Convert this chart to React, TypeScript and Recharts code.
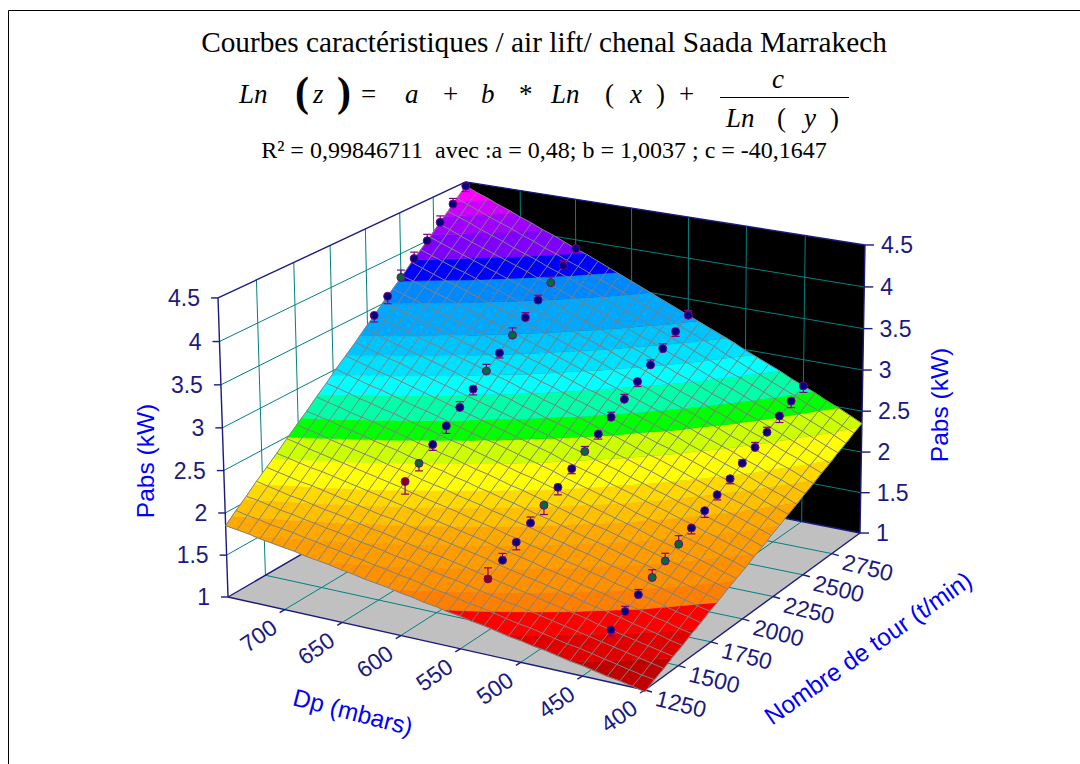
import { Scatter, ScatterChart, XAxis, YAxis } from "recharts";

const W = 1080;
const H = 764;

// axis ticks
const dpTicks = [700, 650, 600, 550, 500, 450, 400];
const rpmTicks = [1250, 1500, 1750, 2000, 2250, 2500, 2750];
const zTicks = [1, 1.5, 2, 2.5, 3, 3.5, 4, 4.5];
const DP_MIN = 400;
const DP_MAX = 750;
const RPM_MIN = 1250;
const RPM_MAX = 3000;

// fitted surface, one row per Dp, one column per speed
const gridDp = [400, 410, 420, 430, 440, 450, 460, 470, 480, 490, 500, 510, 520, 530, 540, 550, 560, 570, 580, 590, 600, 610, 620, 630, 640, 650, 660, 670, 680, 690, 700, 710, 720, 730, 740, 750];
const gridRpm = [1250, 1320, 1390, 1460, 1530, 1600, 1670, 1740, 1810, 1880, 1950, 2020, 2090, 2160, 2230, 2300, 2370, 2440, 2510, 2580, 2650, 2720, 2790, 2860, 2930, 3000];
const surfaceZ = [
  [0.98, 1.04, 1.09, 1.15, 1.2, 1.26, 1.31, 1.37, 1.42, 1.48, 1.53, 1.58, 1.64, 1.69, 1.75, 1.8, 1.86, 1.91, 1.97, 2.02, 2.08, 2.13, 2.19, 2.24, 2.3, 2.35],
  [1.01, 1.06, 1.12, 1.18, 1.23, 1.29, 1.35, 1.4, 1.46, 1.52, 1.57, 1.63, 1.69, 1.74, 1.8, 1.86, 1.91, 1.97, 2.02, 2.08, 2.14, 2.19, 2.25, 2.31, 2.36, 2.42],
  [1.04, 1.09, 1.15, 1.21, 1.27, 1.33, 1.38, 1.44, 1.5, 1.56, 1.62, 1.67, 1.73, 1.79, 1.85, 1.91, 1.96, 2.02, 2.08, 2.14, 2.2, 2.25, 2.31, 2.37, 2.43, 2.49],
  [1.06, 1.12, 1.18, 1.24, 1.3, 1.36, 1.42, 1.48, 1.54, 1.6, 1.66, 1.72, 1.78, 1.84, 1.9, 1.96, 2.02, 2.07, 2.13, 2.19, 2.25, 2.31, 2.37, 2.43, 2.49, 2.55],
  [1.09, 1.15, 1.21, 1.27, 1.33, 1.4, 1.46, 1.52, 1.58, 1.64, 1.7, 1.76, 1.82, 1.88, 1.94, 2.0, 2.07, 2.13, 2.19, 2.25, 2.31, 2.37, 2.43, 2.49, 2.55, 2.62],
  [1.12, 1.18, 1.24, 1.3, 1.37, 1.43, 1.49, 1.55, 1.62, 1.68, 1.74, 1.8, 1.87, 1.93, 1.99, 2.05, 2.12, 2.18, 2.24, 2.3, 2.37, 2.43, 2.49, 2.55, 2.62, 2.68],
  [1.14, 1.21, 1.27, 1.33, 1.4, 1.46, 1.53, 1.59, 1.66, 1.72, 1.78, 1.85, 1.91, 1.98, 2.04, 2.1, 2.17, 2.23, 2.3, 2.36, 2.42, 2.49, 2.55, 2.62, 2.68, 2.74],
  [1.17, 1.23, 1.3, 1.37, 1.43, 1.5, 1.56, 1.63, 1.69, 1.76, 1.82, 1.89, 1.96, 2.02, 2.09, 2.15, 2.22, 2.28, 2.35, 2.41, 2.48, 2.54, 2.61, 2.68, 2.74, 2.81],
  [1.2, 1.26, 1.33, 1.4, 1.46, 1.53, 1.6, 1.66, 1.73, 1.8, 1.87, 1.93, 2.0, 2.07, 2.13, 2.2, 2.27, 2.33, 2.4, 2.47, 2.54, 2.6, 2.67, 2.74, 2.8, 2.87],
  [1.22, 1.29, 1.36, 1.43, 1.5, 1.56, 1.63, 1.7, 1.77, 1.84, 1.91, 1.97, 2.04, 2.11, 2.18, 2.25, 2.32, 2.38, 2.45, 2.52, 2.59, 2.66, 2.73, 2.8, 2.86, 2.93],
  [1.25, 1.32, 1.39, 1.46, 1.53, 1.6, 1.67, 1.74, 1.81, 1.88, 1.95, 2.02, 2.09, 2.16, 2.23, 2.3, 2.37, 2.44, 2.51, 2.58, 2.65, 2.71, 2.78, 2.85, 2.92, 2.99],
  [1.27, 1.34, 1.42, 1.49, 1.56, 1.63, 1.7, 1.77, 1.84, 1.91, 1.99, 2.06, 2.13, 2.2, 2.27, 2.34, 2.41, 2.49, 2.56, 2.63, 2.7, 2.77, 2.84, 2.91, 2.98, 3.06],
  [1.3, 1.37, 1.45, 1.52, 1.59, 1.66, 1.74, 1.81, 1.88, 1.95, 2.03, 2.1, 2.17, 2.25, 2.32, 2.39, 2.46, 2.54, 2.61, 2.68, 2.75, 2.83, 2.9, 2.97, 3.05, 3.12],
  [1.33, 1.4, 1.47, 1.55, 1.62, 1.7, 1.77, 1.84, 1.92, 1.99, 2.07, 2.14, 2.22, 2.29, 2.36, 2.44, 2.51, 2.59, 2.66, 2.73, 2.81, 2.88, 2.96, 3.03, 3.11, 3.18],
  [1.35, 1.43, 1.5, 1.58, 1.65, 1.73, 1.8, 1.88, 1.96, 2.03, 2.11, 2.18, 2.26, 2.33, 2.41, 2.49, 2.56, 2.64, 2.71, 2.79, 2.86, 2.94, 3.01, 3.09, 3.17, 3.24],
  [1.38, 1.45, 1.53, 1.61, 1.68, 1.76, 1.84, 1.92, 1.99, 2.07, 2.15, 2.22, 2.3, 2.38, 2.46, 2.53, 2.61, 2.69, 2.76, 2.84, 2.92, 2.99, 3.07, 3.15, 3.23, 3.3],
  [1.4, 1.48, 1.56, 1.64, 1.72, 1.79, 1.87, 1.95, 2.03, 2.11, 2.19, 2.27, 2.34, 2.42, 2.5, 2.58, 2.66, 2.74, 2.81, 2.89, 2.97, 3.05, 3.13, 3.21, 3.29, 3.36],
  [1.43, 1.51, 1.59, 1.67, 1.75, 1.83, 1.91, 1.99, 2.07, 2.15, 2.23, 2.31, 2.39, 2.47, 2.55, 2.63, 2.71, 2.79, 2.86, 2.94, 3.02, 3.1, 3.18, 3.26, 3.34, 3.42],
  [1.45, 1.53, 1.61, 1.7, 1.78, 1.86, 1.94, 2.02, 2.1, 2.18, 2.26, 2.35, 2.43, 2.51, 2.59, 2.67, 2.75, 2.83, 2.92, 3.0, 3.08, 3.16, 3.24, 3.32, 3.4, 3.48],
  [1.48, 1.56, 1.64, 1.73, 1.81, 1.89, 1.97, 2.06, 2.14, 2.22, 2.3, 2.39, 2.47, 2.55, 2.63, 2.72, 2.8, 2.88, 2.96, 3.05, 3.13, 3.21, 3.3, 3.38, 3.46, 3.54],
  [1.5, 1.59, 1.67, 1.75, 1.84, 1.92, 2.01, 2.09, 2.17, 2.26, 2.34, 2.43, 2.51, 2.59, 2.68, 2.76, 2.85, 2.93, 3.01, 3.1, 3.18, 3.27, 3.35, 3.43, 3.52, 3.6],
  [1.53, 1.61, 1.7, 1.78, 1.87, 1.95, 2.04, 2.12, 2.21, 2.29, 2.38, 2.47, 2.55, 2.64, 2.72, 2.81, 2.89, 2.98, 3.06, 3.15, 3.23, 3.32, 3.41, 3.49, 3.58, 3.66],
  [1.55, 1.64, 1.72, 1.81, 1.9, 1.98, 2.07, 2.16, 2.24, 2.33, 2.42, 2.5, 2.59, 2.68, 2.77, 2.85, 2.94, 3.03, 3.11, 3.2, 3.29, 3.37, 3.46, 3.55, 3.63, 3.72],
  [1.57, 1.66, 1.75, 1.84, 1.93, 2.02, 2.1, 2.19, 2.28, 2.37, 2.46, 2.54, 2.63, 2.72, 2.81, 2.9, 2.99, 3.07, 3.16, 3.25, 3.34, 3.43, 3.51, 3.6, 3.69, 3.78],
  [1.6, 1.69, 1.78, 1.87, 1.96, 2.05, 2.13, 2.22, 2.31, 2.4, 2.49, 2.58, 2.67, 2.76, 2.85, 2.94, 3.03, 3.12, 3.21, 3.3, 3.39, 3.48, 3.57, 3.66, 3.75, 3.84],
  [1.62, 1.71, 1.8, 1.89, 1.98, 2.08, 2.17, 2.26, 2.35, 2.44, 2.53, 2.62, 2.71, 2.8, 2.89, 2.98, 3.07, 3.17, 3.26, 3.35, 3.44, 3.53, 3.62, 3.71, 3.8, 3.89],
  [1.65, 1.74, 1.83, 1.92, 2.01, 2.11, 2.2, 2.29, 2.38, 2.47, 2.57, 2.66, 2.75, 2.84, 2.93, 3.03, 3.12, 3.21, 3.3, 3.4, 3.49, 3.58, 3.67, 3.76, 3.86, 3.95],
  [1.67, 1.76, 1.86, 1.95, 2.04, 2.14, 2.23, 2.32, 2.42, 2.51, 2.6, 2.7, 2.79, 2.88, 2.98, 3.07, 3.16, 3.26, 3.35, 3.44, 3.54, 3.63, 3.73, 3.82, 3.91, 4.01],
  [1.69, 1.79, 1.88, 1.98, 2.07, 2.17, 2.26, 2.36, 2.45, 2.55, 2.64, 2.73, 2.83, 2.92, 3.02, 3.11, 3.21, 3.3, 3.4, 3.49, 3.59, 3.68, 3.78, 3.87, 3.97, 4.06],
  [1.72, 1.81, 1.91, 2.0, 2.1, 2.2, 2.29, 2.39, 2.48, 2.58, 2.68, 2.77, 2.87, 2.96, 3.06, 3.16, 3.25, 3.35, 3.44, 3.54, 3.64, 3.73, 3.83, 3.92, 4.02, 4.12],
  [1.74, 1.84, 1.93, 2.03, 2.13, 2.23, 2.32, 2.42, 2.52, 2.62, 2.71, 2.81, 2.91, 3.0, 3.1, 3.2, 3.3, 3.39, 3.49, 3.59, 3.69, 3.78, 3.88, 3.98, 4.08, 4.17],
  [1.76, 1.86, 1.96, 2.06, 2.16, 2.26, 2.35, 2.45, 2.55, 2.65, 2.75, 2.85, 2.95, 3.05, 3.14, 3.24, 3.34, 3.44, 3.54, 3.64, 3.74, 3.83, 3.93, 4.03, 4.13, 4.23],
  [1.78, 1.88, 1.98, 2.08, 2.18, 2.28, 2.38, 2.48, 2.58, 2.68, 2.78, 2.88, 2.98, 3.08, 3.18, 3.28, 3.38, 3.48, 3.58, 3.68, 3.78, 3.88, 3.98, 4.08, 4.18, 4.28],
  [1.81, 1.91, 2.01, 2.11, 2.21, 2.31, 2.41, 2.52, 2.62, 2.72, 2.82, 2.92, 3.02, 3.12, 3.22, 3.33, 3.43, 3.53, 3.63, 3.73, 3.83, 3.93, 4.03, 4.14, 4.24, 4.34],
  [1.83, 1.93, 2.04, 2.14, 2.24, 2.34, 2.45, 2.55, 2.65, 2.75, 2.86, 2.96, 3.06, 3.16, 3.27, 3.37, 3.47, 3.57, 3.68, 3.78, 3.88, 3.98, 4.09, 4.19, 4.29, 4.39],
  [1.85, 1.96, 2.06, 2.17, 2.27, 2.37, 2.48, 2.58, 2.68, 2.79, 2.89, 3.0, 3.1, 3.2, 3.31, 3.41, 3.52, 3.62, 3.72, 3.83, 3.93, 4.03, 4.14, 4.24, 4.35, 4.45],
];

// colour bands of the surface: lower z bound, colour
const bandFrom = [0, 1.14, 1.28, 1.41, 1.52, 1.66, 1.8, 1.92, 2.04, 2.15, 2.33, 2.49, 2.63, 2.81, 2.95, 3.1, 3.25, 3.5, 3.68, 3.85, 4.05, 4.2, 4.32];
const bandColor = ["#c00000", "#e00000", "#ff0000", "#ff8000", "#ff9000", "#ff9c00", "#ffa800", "#ffc000", "#ffd800", "#ffff00", "#ccff00", "#00ff00", "#00ffa8", "#00ffff", "#00e0ff", "#00c4ff", "#00a8ff", "#0088ff", "#0000ff", "#8000ff", "#a000ff", "#cc00ff", "#ff00ff"];

// measured points, one group per Dp
const dpA = 750;
const rpmA = [2300, 2400, 2500, 2600, 2700, 2800, 2900, 3000];
const zA = [3.41, 3.56, 3.71, 3.86, 4.0, 4.15, 4.3, 4.45];
const errA = [-0.08, -0.09, 0.09, 0.08, 0.08, 0.08, 0.07, -0.07];
const greenA = [2];
const redA: number[] = [];

const dpB = 650;
const rpmB = [1700, 1800, 1900, 2000, 2100, 2200, 2300, 2400, 2500, 2600, 2700, 2800, 2900, 3000];
const zB = [2.21, 2.33, 2.46, 2.59, 2.72, 2.85, 2.98, 3.11, 3.24, 3.37, 3.5, 3.63, 3.76, 3.89];
const errB = [-0.15, -0.09, -0.07, -0.09, 0.07, -0.07, 0.08, -0.06, 0.09, 0.06, 0.06, 0.07, 0.06, -0.06];
const greenB = [1, 6, 8, 11];
const redB = [0];

const dpC = 550;
const rpmC = [1450, 1555, 1655, 1760, 1860, 1965, 2070, 2170, 2275, 2375, 2480, 2585, 2690, 2790, 2895, 3000];
const zC = [1.6, 1.71, 1.82, 1.94, 2.05, 2.16, 2.28, 2.39, 2.5, 2.61, 2.73, 2.85, 2.96, 3.07, 3.19, 3.3];
const errC = [0.13, 0.08, -0.09, 0.07, -0.11, -0.09, -0.06, 0.06, -0.06, 0.06, 0.06, -0.06, 0.06, 0.06, -0.06, 0.06];
const greenC = [4, 7];
const redC = [0];

const dpD = 450;
const rpmD = [1460, 1565, 1665, 1770, 1870, 1975, 2075, 2180, 2280, 2385, 2485, 2590, 2690, 2795, 2895, 3000];
const zD = [1.3, 1.4, 1.49, 1.58, 1.67, 1.76, 1.85, 1.95, 2.04, 2.13, 2.22, 2.31, 2.4, 2.5, 2.59, 2.68];
const errD = [-0.07, 0.06, 0.06, 0.09, 0.09, 0.1, -0.07, -0.08, -0.06, -0.06, 0.04, 0.06, 0.06, -0.08, -0.08, -0.08];
const greenD = [3, 4, 5];
const redD: number[] = [];

const NAVY = "#1a1a80";
const TEAL = "#008080";
const BLUE = "#0000ff";
const SANS = "'Liberation Sans', Arial, sans-serif";
const SERIF = "'Liberation Serif', 'Times New Roman', serif";

// perspective of the 3D box, fitted on its visible corners
function project(dp: number, rpm: number, z: number) {
  const u = (dp - DP_MIN) / (DP_MAX - DP_MIN);
  const v = (rpm - RPM_MIN) / (RPM_MAX - RPM_MIN);
  const w = (z - 1) / 3.5;
  const d = 1 + 0.06 * u + 0.105 * v - 0.0249 * w;
  return {
    sx: (645 - 403.3 * u + 305.3 * v - 16.03 * w) / d,
    sy: (690 - 57.2 * u - 101 * v - 324.4 * w) / d,
  };
}

type V = { sx: number; sy: number; z?: number };

const seg = (a: V, b: V, stroke: string, width = 1) => ({ ...a, to: b, stroke, width });

const inner = (ticks: number[], a: number, b: number) => ticks.filter((t) => t !== a && t !== b);

const floorPoly = [project(DP_MIN, RPM_MIN, 1), project(DP_MAX, RPM_MIN, 1), project(DP_MAX, RPM_MAX, 1), project(DP_MIN, RPM_MAX, 1)];
const wallPoly = [project(DP_MAX, RPM_MAX, 1), project(DP_MIN, RPM_MAX, 1), project(DP_MIN, RPM_MAX, 4.5), project(DP_MAX, RPM_MAX, 4.5)];

const gridLines = [
  ...inner(rpmTicks, RPM_MIN, -1).map((r) => seg(project(DP_MIN, r, 1), project(DP_MAX, r, 1), TEAL)),
  ...inner(dpTicks, DP_MIN, -1).map((d) => seg(project(d, RPM_MIN, 1), project(d, RPM_MAX, 1), TEAL)),
  ...inner(rpmTicks, RPM_MIN, -1).map((r) => seg(project(DP_MAX, r, 1), project(DP_MAX, r, 4.5), TEAL)),
  ...inner(dpTicks, DP_MIN, -1).map((d) => seg(project(d, RPM_MAX, 1), project(d, RPM_MAX, 4.5), TEAL)),
  ...inner(zTicks, 1, 4.5).map((z) => seg(project(DP_MAX, RPM_MIN, z), project(DP_MAX, RPM_MAX, z), TEAL)),
  ...inner(zTicks, 1, 4.5).map((z) => seg(project(DP_MAX, RPM_MAX, z), project(DP_MIN, RPM_MAX, z), TEAL)),
];

const shift = (p: V, dx: number, dy: number) => ({ sx: p.sx + dx, sy: p.sy + dy });

const AXW = 1.4;
const axisLines = [
  seg(project(DP_MAX, RPM_MIN, 1), project(DP_MAX, RPM_MIN, 4.5), NAVY, AXW),
  seg(project(DP_MIN, RPM_MAX, 1), project(DP_MIN, RPM_MAX, 4.5), NAVY, AXW),
  seg(project(DP_MAX, RPM_MIN, 4.5), project(DP_MAX, RPM_MAX, 4.5), NAVY, AXW),
  seg(project(DP_MAX, RPM_MAX, 4.5), project(DP_MIN, RPM_MAX, 4.5), NAVY, AXW),
  seg(project(DP_MIN, RPM_MIN, 1), project(DP_MAX, RPM_MIN, 1), NAVY, AXW),
  seg(project(DP_MIN, RPM_MIN, 1), project(DP_MIN, RPM_MAX, 1), NAVY, AXW),
  seg(project(DP_MAX, RPM_MIN, 1), project(DP_MAX, RPM_MAX, 1), NAVY, AXW),
  seg(project(DP_MAX, RPM_MAX, 1), project(DP_MIN, RPM_MAX, 1), NAVY, AXW),
  ...zTicks.map((z) => seg(project(DP_MAX, RPM_MIN, z), shift(project(DP_MAX, RPM_MIN, z), -7, 0), NAVY, AXW)),
  ...zTicks.map((z) => seg(project(DP_MIN, RPM_MAX, z), shift(project(DP_MIN, RPM_MAX, z), 9, 0), NAVY, AXW)),
  ...dpTicks.map((d) => seg(project(d, RPM_MIN, 1), shift(project(d, RPM_MIN, 1), -5, 3), NAVY, AXW)),
  ...rpmTicks.map((r) => seg(project(DP_MIN, r, 1), shift(project(DP_MIN, r, 1), 7, 2), NAVY, AXW)),
];

// clip a cell to one z band, the z of each corner is linear along its edges
function clipZ(poly: Required<V>[], limit: number, keepAbove: boolean) {
  const out: Required<V>[] = [];
  poly.forEach((a, i) => {
    const b = poly[(i + 1) % poly.length];
    const aIn = keepAbove ? a.z >= limit : a.z <= limit;
    const bIn = keepAbove ? b.z >= limit : b.z <= limit;
    if (aIn) out.push(a);
    if (aIn !== bIn) {
      const t = (limit - a.z) / (b.z - a.z);
      out.push({ sx: a.sx + (b.sx - a.sx) * t, sy: a.sy + (b.sy - a.sy) * t, z: limit });
    }
  });
  return out;
}

const corner = (i: number, j: number) => ({ ...project(gridDp[i], gridRpm[j], surfaceZ[i][j]), z: surfaceZ[i][j] });

const surfaceCells = surfaceZ.slice(1).flatMap((row, i) =>
  row.slice(1).map((_, j) => {
    const quad = [corner(i, j), corner(i + 1, j), corner(i + 1, j + 1), corner(i, j + 1)];
    const parts: { color: string; pts: V[] }[] = [];
    bandFrom.forEach((lo, k) => {
      const hi = k + 1 < bandFrom.length ? bandFrom[k + 1] : 99;
      const pts = clipZ(clipZ(quad, lo, true), hi, false);
      if (pts.length > 2) parts.push({ color: bandColor[k], pts });
    });
    return { ...quad[0], parts };
  })
);

const meshLines = [
  ...gridDp.map((_, i) => gridRpm.map((__, j) => corner(i, j))),
  ...gridRpm.map((_, j) => gridDp.map((__, i) => corner(i, j))),
].map((pts) => ({ ...pts[0], pts }));

const measured = (dp: number, rpms: number[], zs: number[], errs: number[], greens: number[], reds: number[]) =>
  rpms.map((r, i) => ({
    ...project(dp, r, zs[i]),
    tip: project(dp, r, zs[i] + errs[i]),
    fill: greens.includes(i) ? "#006a3c" : reds.includes(i) ? "#800020" : "#000080",
  }));

const points = [
  ...measured(dpA, rpmA, zA, errA, greenA, redA),
  ...measured(dpB, rpmB, zB, errB, greenB, redB),
  ...measured(dpC, rpmC, zC, errC, greenC, redC),
  ...measured(dpD, rpmD, zD, errD, greenD, redD),
];

const tickLabels = [
  ...zTicks.map((z) => ({ ...project(DP_MAX, RPM_MIN, z), label: String(z), dx: -18, dy: 0, rot: 0, anchor: "end" })),
  ...zTicks.map((z) => ({ ...project(DP_MIN, RPM_MAX, z), label: String(z), dx: 16, dy: 0, rot: 0, anchor: "start" })),
  ...dpTicks.map((d) => ({ ...project(d, RPM_MIN, 1), label: String(d), dx: -26, dy: 26, rot: -35, anchor: "middle" })),
  ...rpmTicks.map((r) => ({ ...project(DP_MIN, r, 1), label: String(r), dx: 36, dy: 14, rot: 14, anchor: "middle" })),
];

const PolyShape = ({ cx, cy, payload, fill }: any) => {
  const pts = payload.pts.map((p: V) => `${cx + p.sx - payload.sx},${cy + p.sy - payload.sy}`).join(" ");
  return <polygon points={pts} fill={fill} />;
};

const SegShape = ({ cx, cy, payload }: any) => (
  <line
    x1={cx}
    y1={cy}
    x2={cx + payload.to.sx - payload.sx}
    y2={cy + payload.to.sy - payload.sy}
    stroke={payload.stroke}
    strokeWidth={payload.width}
  />
);

const CellShape = ({ cx, cy, payload }: any) => (
  <g>
    {payload.parts.map((part: any, i: number) => (
      <polygon
        key={i}
        points={part.pts.map((p: V) => `${cx + p.sx - payload.sx},${cy + p.sy - payload.sy}`).join(" ")}
        fill={part.color}
        stroke={part.color}
        strokeWidth={0.5}
      />
    ))}
  </g>
);

const MeshShape = ({ cx, cy, payload }: any) => (
  <polyline
    points={payload.pts.map((p: V) => `${cx + p.sx - payload.sx},${cy + p.sy - payload.sy}`).join(" ")}
    fill="none"
    stroke="#808080"
    strokeWidth={1}
  />
);

const DotShape = ({ cx, cy, payload }: any) => {
  const ty = cy + payload.tip.sy - payload.sy;
  return (
    <g>
      <line x1={cx} y1={cy} x2={cx} y2={ty} stroke="#800080" strokeWidth={1.2} />
      <line x1={cx - 4} y1={ty} x2={cx + 4} y2={ty} stroke="#800080" strokeWidth={1.2} />
      <circle cx={cx} cy={cy} r={4} fill={payload.fill} stroke="#800080" strokeWidth={1} />
    </g>
  );
};

const LabelShape = ({ cx, cy, payload }: any) => {
  const x = cx + payload.dx;
  const y = cy + payload.dy;
  return (
    <text
      x={x}
      y={y}
      transform={payload.rot ? `rotate(${payload.rot} ${x} ${y})` : undefined}
      textAnchor={payload.anchor}
      dominantBaseline="central"
      fontFamily={SANS}
      fontSize={23}
      fill={NAVY}
    >
      {payload.label}
    </text>
  );
};

// pieces of the printed equation: text, x, y, style
const equation = [
  { t: "Ln", x: 239, y: 103 },
  { t: "(", x: 295, y: 106, big: true },
  { t: "z", x: 313, y: 103 },
  { t: ")", x: 337, y: 106, big: true },
  { t: "=", x: 361, y: 103, plain: true },
  { t: "a", x: 405, y: 103 },
  { t: "+", x: 443, y: 103, plain: true },
  { t: "b", x: 481, y: 103 },
  { t: "*", x: 519, y: 103, plain: true },
  { t: "Ln", x: 551, y: 103 },
  { t: "(", x: 605, y: 103, plain: true },
  { t: "x", x: 630, y: 103 },
  { t: ")", x: 656, y: 103, plain: true },
  { t: "+", x: 679, y: 103, plain: true },
  { t: "c", x: 772, y: 88 },
  { t: "Ln", x: 726, y: 127 },
  { t: "(", x: 777, y: 127, plain: true },
  { t: "y", x: 804, y: 127 },
  { t: ")", x: 830, y: 127, plain: true },
];

function Titles() {
  return (
    <svg width={W} height={H} style={{ position: "absolute", left: 0, top: 0 }}>
      <line x1={8.5} y1={10.5} x2={W} y2={10.5} stroke="#000" />
      <line x1={8.5} y1={10.5} x2={8.5} y2={H} stroke="#000" />
      <text x={544} y={52} textAnchor="middle" fontFamily={SERIF} fontSize={29.3} fill="#000">
        Courbes caractéristiques / air lift/ chenal Saada Marrakech
      </text>
      {equation.map((e, i) => (
        <text
          key={i}
          x={e.x}
          y={e.y}
          fontFamily={SERIF}
          fontSize={e.big ? 42 : 27}
          fontStyle={e.plain || e.big ? "normal" : "italic"}
          fontWeight={e.big ? "bold" : "normal"}
          fill="#000"
        >
          {e.t}
        </text>
      ))}
      <line x1={720} y1={97.5} x2={849} y2={97.5} stroke="#000" />
      <text x={544} y={158} textAnchor="middle" fontFamily={SERIF} fontSize={24} fill="#000" xmlSpace="preserve">
        R² = 0,99846711  avec :a = 0,48; b = 1,0037 ; c = -40,1647
      </text>
      <g fontFamily={SANS} fontSize={24.5} fill={BLUE} textAnchor="middle">
        <text transform="translate(145 461) rotate(-90)" dominantBaseline="central">Pabs (kW)</text>
        <text transform="translate(939 405) rotate(-90)" dominantBaseline="central">Pabs (kW)</text>
        <text transform="translate(353 712) rotate(14.5)" dominantBaseline="central">Dp (mbars)</text>
        <text transform="translate(868 648) rotate(-35)" dominantBaseline="central">Nombre de tour (t/min)</text>
      </g>
    </svg>
  );
}

export default function App() {
  return (
    <div style={{ position: "absolute", left: 0, top: 0, width: W, height: H, background: "#fff", overflow: "hidden" }}>
      <Titles />
      <div style={{ position: "absolute", left: 0, top: 0 }}>
        <ScatterChart width={W} height={H} margin={{ top: 0, right: 0, bottom: 0, left: 0 }}>
          <XAxis type="number" dataKey="sx" domain={[0, W]} hide />
          <YAxis type="number" dataKey="sy" domain={[0, H]} reversed hide />
          <Scatter data={[{ ...floorPoly[0], pts: floorPoly }]} fill="#c0c0c0" shape={PolyShape} isAnimationActive={false} />
          <Scatter data={[{ ...wallPoly[0], pts: wallPoly }]} fill="#000000" shape={PolyShape} isAnimationActive={false} />
          <Scatter data={gridLines} shape={SegShape} isAnimationActive={false} />
          <Scatter data={axisLines} shape={SegShape} isAnimationActive={false} />
          <Scatter data={surfaceCells} shape={CellShape} isAnimationActive={false} />
          <Scatter data={meshLines} shape={MeshShape} isAnimationActive={false} />
          <Scatter data={points} shape={DotShape} isAnimationActive={false} />
          <Scatter data={tickLabels} shape={LabelShape} isAnimationActive={false} />
        </ScatterChart>
      </div>
    </div>
  );
}
